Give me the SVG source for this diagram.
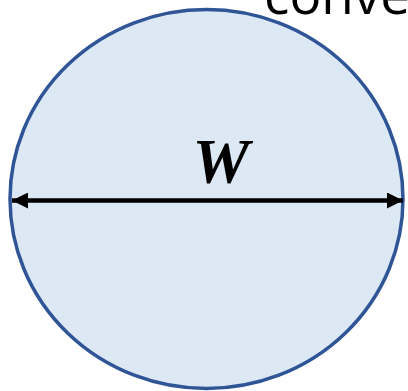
<svg xmlns="http://www.w3.org/2000/svg" width="408" height="391" viewBox="0 0 408 391">
<style>
.circ{fill:#dde8f5;stroke:#2f5597;stroke-width:3.5}
.dim{stroke:#000;stroke-width:4.5;fill:none}
.lbl{font-family:"Liberation Serif",serif;font-weight:bold;font-style:italic;font-size:64px;fill:#000}
.top{font-family:"Open Sans","Liberation Sans",sans-serif;font-size:53px;fill:#000}
</style>
<defs>
<marker id="ah" viewBox="0 0 16 16" refX="16" refY="8" markerWidth="16" markerHeight="16" markerUnits="userSpaceOnUse" orient="auto-start-reverse">
<path d="M0,0 L16,8 L0,16 Z" fill="#000"/>
</marker>
</defs>
<g id="caption"><text class="top" x="264" y="14">conve</text></g>
<g id="circle"><ellipse class="circ" cx="206.5" cy="199" rx="196.5" ry="189.5"/></g>
<g id="connectors"><line class="dim" x1="12" y1="200.5" x2="403" y2="200.5" marker-start="url(#ah)" marker-end="url(#ah)"/></g>
<g id="label"><text class="lbl" x="221" y="183" text-anchor="middle">W</text></g>
</svg>
